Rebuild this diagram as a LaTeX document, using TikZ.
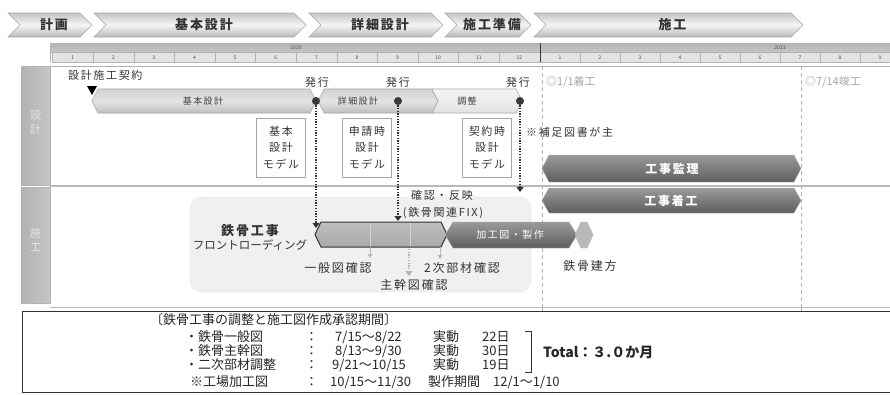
\documentclass[tikz,border=0pt]{standalone}
\usepackage{fontspec}
\setmainfont{Noto Sans CJK JP}
\newfontfamily\jpw[LetterSpace=15]{Noto Sans CJK JP}
\usetikzlibrary{arrows.meta}
\definecolor{txt}{HTML}{333333}
\definecolor{barD1}{HTML}{9A9A9A}
\definecolor{barD2}{HTML}{5E5E5E}
\newcommand{\chevshape}[4]{%
  \path[phase] (#1,13) -- (#2-12,13) -- (#2,25) -- (#2-12,37) -- (#1,37) -- (#1+12,25) -- cycle;
  \node[phasetxt] (#3) at ({(#1+#2)/2+4},25) {#4};}
\newcommand{\hexpath}[6]{%
  \path[#1] (#2,{(#4+#5)/2}) -- (#2+#6,#4) -- (#3-#6,#4) -- (#3,{(#4+#5)/2}) -- (#3-#6,#5) -- (#2+#6,#5) -- cycle;}
\tikzset{
  phase/.style={draw=gray!70, line width=0.6pt, top color=gray!45, bottom color=gray!55, middle color=gray!8},
  phasetxt/.style={font=\jpw\bfseries\fontsize{13}{14}\selectfont, text=black!80},
  monthcell/.style={draw=gray!60, fill=gray!22, line width=0.4pt},
  monthtxt/.style={font=\fontsize{5}{6}\selectfont, text=black!70},
  sidebar/.style={left color=gray!60, right color=gray!45, draw=gray!60},
  sidetxt/.style={font=\fontsize{11}{14}\selectfont, text=gray!20, align=center},
  lightbar/.style={draw=gray!70, top color=gray!35, bottom color=gray!50, middle color=gray!22, line width=0.6pt},
  darkbar/.style={draw=gray!60, top color=barD1, bottom color=barD2},
  bartxt/.style={font=\jpw\fontsize{9}{10}\selectfont, text=black!75},
  wbartxt/.style={font=\jpw\bfseries\fontsize{12}{13}\selectfont, text=white},
  modelbox/.style={draw=gray!70, fill=white, line width=0.6pt, minimum width=49pt, minimum height=59pt, inner sep=0pt, align=center, font=\jpw\fontsize{11}{16.5}\selectfont, text=txt},
  lbl/.style={font=\jpw\fontsize{11}{12}\selectfont, text=txt, inner sep=0pt},
  blbl/.style={font=\jpw\fontsize{12}{13}\selectfont, text=gray!40!black, inner sep=0pt},
  glbl/.style={font=\fontsize{11}{12}\selectfont, text=gray!70, inner sep=0pt},
  dotarrow/.style={draw=gray!40!black, line width=1.6pt, dash pattern=on 1.3pt off 1.4pt, -{Triangle[width=7pt,length=5pt]}},
  smallarrow/.style={draw=gray!55, line width=0.8pt, -{Triangle[width=5pt,length=4pt]}},
  issuedot/.style={circle, fill=gray!45!black, inner sep=0pt, minimum size=8pt},
  btxt/.style={font=\fontsize{13}{14}\selectfont, text=black!85, anchor=west, inner sep=0pt},
}
\begin{document}
\begin{tikzpicture}[x=1pt,y=-1pt]
\useasboundingbox (0,0) rectangle (890,394);
\fill[white] (0,0) rectangle (890,394);

% ---- phase chevrons
\chevshape{8}{92}{ph1}{計画}
\chevshape{94}{306}{ph2}{基本設計}
\chevshape{309}{443}{ph3}{詳細設計}
\chevshape{445}{531}{ph4}{施工準備}
\chevshape{534}{803}{ph5}{施工}

% ---- timeline header
\path[draw=gray!60, top color=gray!60, bottom color=gray!45] (50,43) rectangle (895,52.5);
\node[monthtxt] (y2020) at (296,47.7) {2020};
\node[monthtxt] (y2021) at (780,47.7) {2021};
\foreach \i [evaluate=\i as \xa using 52.5+(\i-1)*40.6] in {1,...,12} {
  \draw[monthcell] (\xa,52.5) rectangle ++(40.6,9.5);
  \node[monthtxt] (ma\i) at (\xa+20.3,57.3) {\i};
}
\foreach \i [evaluate=\i as \xa using 540+(\i-1)*40] in {1,...,9} {
  \draw[monthcell] (\xa,52.5) rectangle ++(40,9.5);
  \node[monthtxt] (mb\i) at (\xa+20,57.3) {\i};
}
\draw[gray!45!black, line width=0.8pt] (540,43) -- (540,62);
\draw[gray!60, line width=0.6pt] (50,43) -- (50,62);

% ---- side bars and frame lines
\path[sidebar] (21,66) rectangle (50,185);
\path[sidebar] (21,187) rectangle (50,303);
\node[sidetxt] (sd) at (35.5,122) {設\\計};
\node[sidetxt] (sc) at (35.5,240) {施\\工};
\draw[gray!60, line width=0.6pt] (50,66) -- (895,66);
\draw[gray!55, line width=1.2pt] (50,186) -- (895,186);
\draw[gray!55, line width=0.8pt] (50,307) -- (895,307);

% ---- milestone dashed lines
\draw[gray!60, dash pattern=on 4pt off 3pt, line width=0.5pt] (542,66) -- (542,310);
\draw[gray!60, dash pattern=on 4pt off 3pt, line width=0.5pt] (801,66) -- (801,310);
\node[glbl, anchor=west] (chaku) at (546,82) {◎1/1着工};
\node[glbl, anchor=west] (shun) at (805,82) {◎7/14竣工};

% ---- design row
\node[lbl, anchor=west] (keiyaku) at (68,75) {設計施工契約};
\fill[black] (87,86) -- (97,86) -- (92,95) -- cycle;
\hexpath{lightbar}{92}{316}{89}{113}{6}
\node[bartxt] (kihon) at (203,101) {基本設計};
\hexpath{lightbar}{318}{438}{89}{113}{6}
\node[bartxt] (shosai) at (358,101) {詳細設計};
\path[draw=gray!70, line width=0.6pt, top color=gray!8, bottom color=gray!22] (432,89) -- (516,89) -- (522,101) -- (516,113) -- (432,113) -- (438,101) -- cycle;
\node[bartxt] (chosei) at (467,101) {調整};

\node[issuedot] (d1) at (316,101) {};
\node[issuedot] (d2) at (398,101) {};
\node[issuedot] (d3) at (520,101) {};
\node[lbl] (h1) at (317,82) {発行};
\node[lbl] (h2) at (398,82) {発行};
\node[lbl] (h3) at (518,82) {発行};

\node[modelbox] (mb1) at (281,147.5) {基本\\設計\\モデル};
\node[modelbox] (mb2) at (367,147.5) {申請時\\設計\\モデル};
\node[modelbox] (mb3) at (487,147.5) {契約時\\設計\\モデル};
\node[lbl, anchor=west] (hosoku) at (526,132) {※補足図書が主};

\hexpath{darkbar}{542}{801}{155}{182}{7}
\node[wbartxt] (kanri) at (672,168.5) {工事監理};

% ---- construction row
\hexpath{darkbar}{542}{801}{188}{213}{7}
\node[wbartxt] (chakko) at (671,200.5) {工事着工};

\path[fill=gray!12, draw=gray!22, rounded corners=12pt] (190,197) rectangle (531,292);
\node[blbl, font=\jpw\bfseries\fontsize{13}{14}\selectfont] (tk) at (250,231) {鉄骨工事};
\node[blbl, font=\fontsize{11.5}{13}\selectfont] (fl) at (250,245) {フロントローディング};
\node[blbl, font=\jpw\fontsize{11}{12}\selectfont] (kk) at (442,195) {確認・反映};
\node[blbl, font=\jpw\fontsize{11}{12}\selectfont] (fix) at (443,213) {(鉄骨関連FIX)};

\hexpath{draw=gray!40!black, line width=1pt, top color=gray!50, bottom color=gray!68}{315}{447}{222}{247}{6}
\draw[gray!35, line width=0.8pt] (370,223) -- (370,246);
\draw[gray!35, line width=0.8pt] (410,223) -- (410,246);
\hexpath{darkbar}{445}{577}{222}{248}{8}
\node[wbartxt, font=\jpw\fontsize{10}{11}\selectfont] (kako) at (510,235) {加工図・製作};
\hexpath{draw=gray!60, fill=gray!55}{575}{593}{222}{248}{6}
\node[blbl] (tatekata) at (590,266) {鉄骨建方};

\coordinate (b1) at (370,247);
\coordinate (b1e) at (370,258);
\coordinate (b3) at (440,247);
\coordinate (b3e) at (440,259);
\coordinate (b2) at (409,249);
\coordinate (b2e) at (409,276);
\draw[smallarrow] (b1) -- (b1e);
\draw[smallarrow] (b3) -- (b3e);
\draw[dotarrow, line width=1.3pt, draw=gray!60] (b2) -- (b2e);
\node[blbl] (ippan) at (338,268) {一般図確認};
\node[blbl] (shukan) at (414,285) {主幹図確認};
\node[blbl] (niji) at (462,268) {2次部材確認};

% ---- dotted issue arrows
\coordinate (e1) at (316,228);
\coordinate (e2) at (398,221);
\coordinate (e3) at (520,192);
\draw[dotarrow] (d1) -- (e1);
\draw[dotarrow] (d2) -- (e2);
\draw[dotarrow] (d3) -- (e3);

% ---- bottom box
\draw[gray!40!black, line width=0.8pt] (22,311) rectangle (896,392);
\draw[gray!60, line width=0.5pt] (542,307) -- (542,311);
\draw[gray!60, line width=0.5pt] (801,307) -- (801,311);
\node[btxt] (t0) at (150,320) {〔鉄骨工事の調整と施工図作成承認期間〕};
\node[btxt] (t1a) at (185,337) {・鉄骨一般図};
\node[btxt] (t2a) at (185,351) {・鉄骨主幹図};
\node[btxt] (t3a) at (185,365) {・二次部材調整};
\node[btxt] (t4a) at (190,382) {※工場加工図};
\foreach \yy/\nm in {337/1,351/2,365/3,382/4} {
  \node[btxt] (c\nm) at (305,\yy) {：};
}
\node[btxt] (t1b) at (335,337) {7/15～8/22};
\node[btxt] (t2b) at (335,351) {8/13～9/30};
\node[btxt] (t3b) at (332,365) {9/21～10/15};
\node[btxt] (t4b) at (330,382) {10/15～11/30};
\node[btxt] (t1c) at (433,337) {実動};
\node[btxt] (t2c) at (433,351) {実動};
\node[btxt] (t3c) at (433,365) {実動};
\node[btxt] (t4c) at (428,382) {製作期間};
\node[btxt] (t1d) at (482,337) {22日};
\node[btxt] (t2d) at (482,351) {30日};
\node[btxt] (t3d) at (482,365) {19日};
\node[btxt] (t4d) at (493,382) {12/1～1/10};
\draw[black!80, line width=0.8pt] (525,331) -- (531,331) -- (531,372) -- (525,372);
\node[btxt, font=\bfseries\fontsize{14}{15}\selectfont] (total) at (543,352) {Total：３.０か月};
\end{tikzpicture}
\end{document}
